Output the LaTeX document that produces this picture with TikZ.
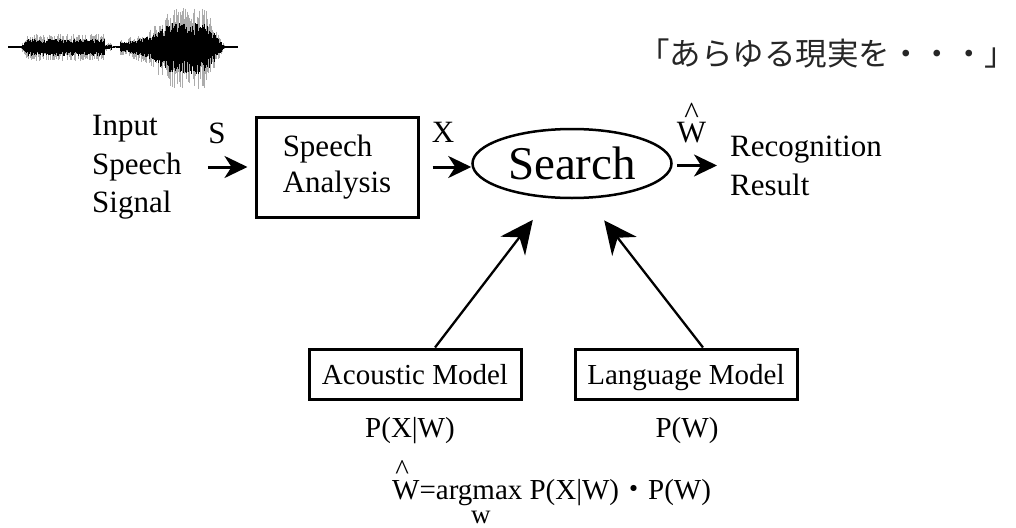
\documentclass[tikz,border=0pt]{standalone}
\usepackage{fontspec}
\setmainfont{Liberation Serif}
\newfontfamily\cjk{Noto Sans CJK JP}
\usetikzlibrary{arrows.meta,shapes.geometric,calc}
\begin{document}
\begin{tikzpicture}[x=1pt,y=-1pt,
  txt/.style={inner sep=0pt, anchor=base west, font=\fontsize{31}{37}\selectfont},
  lbl/.style={inner sep=0pt, anchor=base, font=\fontsize{31}{37}\selectfont},
  fml/.style={inner sep=0pt, anchor=base, font=\fontsize{29}{34}\selectfont},
  box/.style={draw, line width=3pt, inner sep=0pt},
  anabox/.style={box, minimum width=162pt, minimum height=100pt, align=left, font=\fontsize{31}{36}\selectfont},
  modelbox/.style={box, minimum height=50pt, text depth=0pt, font=\fontsize{29}{34}\selectfont},
  ell/.style={draw, ellipse, line width=2.5pt, minimum width=199pt, minimum height=69pt, inner sep=0pt, font=\fontsize{47}{47}\selectfont},
  harr/.style={line width=3pt, -{Stealth[length=23pt,width=22pt,inset=7pt]}},
  darr/.style={line width=2.3pt, -{Stealth[length=33pt,width=31pt,inset=11pt]}},
  jp/.style={inner sep=0pt, font=\cjk\fontsize{31.5}{32}\selectfont, text=black!85}
]
\useasboundingbox[fill=white] (0,0) rectangle (1016,527);

% waveform
\pgfmathsetseed{12}
\draw[line width=1.2pt] (8,47) -- (238,47);
\foreach \x in {18,18.8,...,228}{
  \pgfmathsetmacro\env{(\x<20)?0:((\x<28)?(\x-20)*1.2:((\x<105)?10:((\x<112)?3:((\x<120)?1:((\x<128)?6:((\x<150)?(7+(\x-128)*0.3):((\x<170)?(13+(\x-150)*0.85):((\x<205)?30:((\x<225)?(30-(\x-205)*1.45):0)))))))))}
  \pgfmathsetmacro\up{\env*(0.45+0.85*rnd)}
  \pgfmathsetmacro\dn{\env*(0.55+0.85*rnd)}
  \draw[gray!65, line width=0.9pt] (\x,47-\up) -- (\x,47+\dn);
}
\foreach \x in {18,18.7,...,228}{
  \pgfmathsetmacro\env{(\x<20)?0:((\x<28)?(\x-20)*1.2:((\x<105)?10:((\x<112)?3:((\x<120)?1:((\x<128)?6:((\x<150)?(7+(\x-128)*0.3):((\x<170)?(13+(\x-150)*0.85):((\x<205)?30:((\x<225)?(30-(\x-205)*1.45):0)))))))))}
  \pgfmathsetmacro\up{\env*(0.4+0.4*rnd)}
  \pgfmathsetmacro\dn{\env*(0.45+0.45*rnd)}
  \draw[black, line width=1pt] (\x,47-\up) -- (\x,47+\dn);
}

% Japanese caption
\node[jp] (jpText) at (827,54) {「あらゆる現実を・・・」};

% input
\node[txt] (inInput) at (92,135) {Input};
\node[txt] (inSpeech) at (92,174) {Speech};
\node[txt] (inSignal) at (92,212) {Signal};
\node[lbl] (sLbl) at (217,143) {S};

% analysis box
\node[anabox] (analysis) at (337,167) {Speech\\Analysis};
\node[lbl] (xLbl) at (443,142) {X};

% search
\node[ell] (search) at (572,163.5) {Search};

% output
\node[lbl] (wLbl) at (691.5,142) {\rlap{\makebox[29.3pt]{\raisebox{18.5pt}{\textasciicircum}}}W};
\node[txt] (recog) at (730,156) {Recognition};
\node[txt] (result) at (730,195) {Result};

% models
\node[modelbox, minimum width=212pt] (acoustic) at (415,374) {Acoustic Model};
\node[modelbox, minimum width=222pt] (language) at (686,374) {Language Model};
\node[fml] (pxw) at (410,437) {P(X|W)};
\node[fml] (pw) at (687,437) {P(W)};

% formula
\node[fml, anchor=base west] (formula) at (392,499) {\rlap{\makebox[20pt]{\raisebox{20pt}{\textasciicircum}}}W=\rlap{\makebox[90pt]{\raisebox{-24pt}{\fontsize{27}{30}\selectfont w}}}argmax P(X|W){\cjk ・}P(W)};

% connectors
\draw[harr, shorten <=26pt, shorten >=7pt] (inSpeech.east |- analysis.west) -- (analysis.west);
\draw[harr, shorten <=13pt] (analysis.east) -- (analysis.east -| search.west);
\draw[harr, shorten <=4pt, shorten >=13pt] ([yshift=-2pt]search.east) -- ([yshift=-2pt]search.east -| recog.west);
\draw[darr, shorten >=71pt] ([xshift=20pt]acoustic.north) -- ([xshift=4pt]search.center);
\draw[darr, shorten >=72pt] ([xshift=17pt]language.north) -- ([xshift=-12pt]search.center);
\end{tikzpicture}
\end{document}
